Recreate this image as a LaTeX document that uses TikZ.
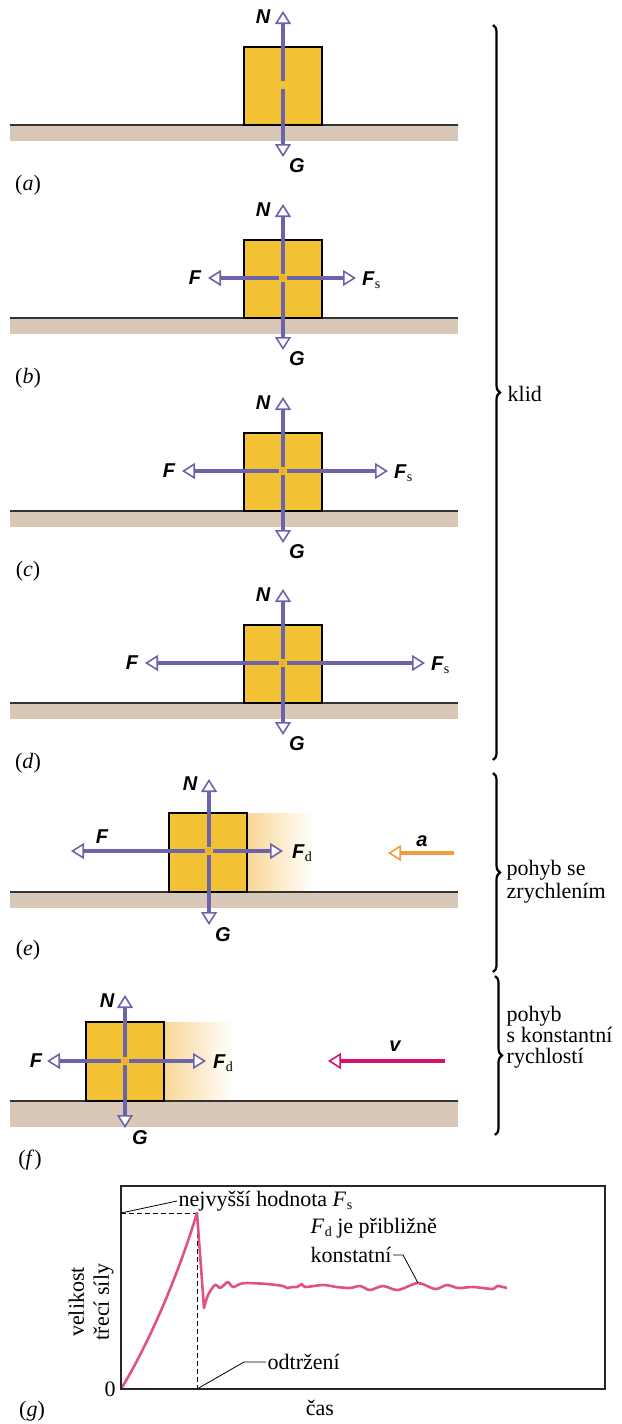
\documentclass[tikz,border=0pt]{standalone}
\usepackage{fontspec}
\setmainfont{Liberation Serif}
\newfontfamily\lblfont{Liberation Sans}
\usepackage{tikz}
\usetikzlibrary{arrows.meta,decorations.pathreplacing,positioning}
\definecolor{blockcol}{RGB}{242,194,52}
\definecolor{groundcol}{RGB}{217,199,184}
\definecolor{forcecol}{RGB}{108,100,170}
\definecolor{acccol}{RGB}{240,158,60}
\definecolor{velcol}{RGB}{210,20,110}
\definecolor{curvecol}{RGB}{224,82,132}
\definecolor{fadecol}{RGB}{249,214,150}
\definecolor{gapcol}{RGB}{240,176,40}
\newcommand{\lowidx}[1]{\kern0.5pt\raisebox{-0.3ex}{\fontsize{14}{14}\selectfont\rmfamily\mdseries\upshape #1}}

\begin{document}
\begin{tikzpicture}[x=1pt, y=-1pt,
  force/.style={draw=forcecol, line width=3.4pt, shorten <=4pt,
                -{Triangle[length=13pt, width=16pt, line width'=1.6pt, fill=white]}},
  accarrow/.style={draw=acccol, line width=3.4pt,
                -{Triangle[length=13pt, width=16pt, line width'=1.6pt, fill=white]}},
  velarrow/.style={draw=velcol, line width=3.4pt,
                -{Triangle[length=13pt, width=16pt, line width'=1.6pt, fill=white]}},
  lbl/.style={font=\fontsize{20}{21}\selectfont\lblfont\bfseries\itshape, inner sep=0pt},
  txt/.style={font=\fontsize{22}{23}\selectfont, inner sep=1.5pt},
  brace/.style={decorate, decoration={brace, amplitude=7pt}, line width=2.2pt},
  leader/.style={draw=black, line width=0.8pt},
  guide/.style={draw=black, line width=0.9pt, dash pattern=on 5pt off 3pt}]
  \useasboundingbox (0,0) rectangle (621,1424);

  \foreach \gy/\p in {125/a, 318/b, 511/c, 703/d} {
    \fill[groundcol] (10,\gy) rectangle (458,\gy+16);
    \draw[line width=1.2pt, black!80] (10,\gy) -- (458,\gy);
    \draw[fill=blockcol, line width=1.2pt] (244,\gy-78) rectangle (322,\gy);
    \coordinate (ctr\p) at (283,\gy-40);
    \coordinate (ntip\p) at (283,\gy-114);
    \coordinate (gtip\p) at (283,\gy+32);
    \draw[force] (ctr\p) -- (ntip\p);
    \draw[force] (ctr\p) -- (gtip\p);
    \node[lbl] (N\p) at (263,\gy-108) {N};
    \node[lbl] (G\p) at (297,\gy+41) {G};
    \node[txt] (part\p) at (28,\gy+60) {(\textit{\p})};
  }
  \foreach \gy/\dl/\dr/\p in {318/75/73/b, 511/101/105/c, 703/138/142/d} {
    \fill[gapcol] (280,\gy-43) rectangle (286,\gy-37);
    \coordinate (ftip\p) at (283-\dl,\gy-40);
    \coordinate (fstip\p) at (283+\dr,\gy-40);
    \draw[force] (ctr\p) -- (ftip\p);
    \draw[force] (ctr\p) -- (fstip\p);
    \node[lbl] (F\p) at (270-\dl,\gy-40) {F};
    \node[lbl, anchor=west] (Fs\p) at (289+\dr,\gy-38) {F\lowidx{s}};
  }

  % (e)
  \fill[groundcol] (10,892) rectangle (458,908);
  \shade[left color=fadecol, right color=white] (247,813) rectangle (313,892);
  \draw[line width=1.2pt, black!80] (10,892) -- (458,892);
  \draw[fill=blockcol, line width=1.2pt] (169,813) rectangle (247,892);
  \fill[gapcol] (206,848) rectangle (212,854);
  \coordinate (ctre) at (209,851);
  \coordinate (ntipe) at (209,779);
  \coordinate (gtipe) at (209,925);
  \coordinate (ftipe) at (71,851);
  \coordinate (fdtipe) at (283,851);
  \foreach \t in {ntipe, gtipe, ftipe, fdtipe} \draw[force] (ctre) -- (\t);
  \node[lbl] (Ne) at (190,784) {N};
  \node[lbl] (Ge) at (223,935) {G};
  \node[lbl] (Fe) at (102,837) {F};
  \node[lbl, anchor=west] (Fde) at (292,853) {F\lowidx{d}};
  \coordinate (astart) at (454,853);
  \coordinate (aend) at (388,853);
  \draw[accarrow] (astart) -- (aend);
  \node[lbl] (acc) at (422,841) {a};
  \node[txt] (parte) at (28,950) {(\textit{e})};

  % (f)
  \fill[groundcol] (10,1101) rectangle (458,1127);
  \shade[left color=fadecol, right color=white] (164,1022) rectangle (233,1101);
  \draw[line width=1.2pt, black!80] (10,1101) -- (458,1101);
  \draw[fill=blockcol, line width=1.2pt] (86,1022) rectangle (164,1101);
  \fill[gapcol] (122,1058) rectangle (128,1064);
  \coordinate (ctrf) at (125,1061);
  \coordinate (ntipf) at (125,995);
  \coordinate (gtipf) at (125,1128);
  \coordinate (ftipf) at (47,1061);
  \coordinate (fdtipf) at (206,1061);
  \foreach \t in {ntipf, gtipf, ftipf, fdtipf} \draw[force] (ctrf) -- (\t);
  \node[lbl] (Nf) at (107,1001) {N};
  \node[lbl] (Gf) at (140,1138) {G};
  \node[lbl] (Ff) at (36,1061) {F};
  \node[lbl, anchor=west] (Fdf) at (213,1063) {F\lowidx{d}};
  \coordinate (vstart) at (445,1061);
  \coordinate (vend) at (328,1061);
  \draw[velarrow] (vstart) -- (vend);
  \node[lbl] (vel) at (395,1046) {v};
  \node[txt] (partf) at (30,1160) {(\textit{f})};

  % braces
  \draw[brace] (493,25) -- (493,760);
  \draw[brace] (493,773) -- (493,972);
  \draw[brace] (495,976) -- (495,1135);
  \node[txt, anchor=west] (klid) at (506,394) {klid};
  \node[txt, anchor=west, align=left] (zrych) at (505,882) {pohyb se\\zrychlením};
  \node[txt, anchor=west, align=left, font=\fontsize{22}{21}\selectfont] (konstv) at (505,1037) {pohyb\\s konstantní\\rychlostí};

  % (g)
  \coordinate (o) at (121,1389);
  \coordinate (tr) at (605,1186);
  \coordinate (peak) at (197,1213);
  \coordinate (ymax) at (121,1213);
  \coordinate (tbreak) at (197,1389);
  \coordinate (wig) at (418,1283);
  \draw[guide] (ymax) -- (peak) -- (tbreak);
  \draw[curvecol, line width=2.6pt, line join=round]
    (o) .. controls (145,1350) and (175,1285) .. (peak) -- (204,1308)
    -- plot[smooth] coordinates {(204,1308) (208,1295) (215,1285) (220,1288) (224,1285)
      (228,1282) (233,1287) (240,1284) (247,1283) (267,1284) (283,1286) (287,1288)
      (292,1287) (297,1287) (302,1284) (305,1287) (323,1285) (337,1287) (350,1288)
      (360,1286) (370,1290) (383,1286) (398,1290) (418,1283) (435,1289) (447,1285)
      (458,1288) (473,1287) (493,1289) (497,1286) (507,1288)};
  \draw[line width=1.2pt, black!85] (o) rectangle (tr);
  \node[txt, anchor=west] (fsmax) at (177,1201) {nejvyšší hodnota \textit{F}\lowidx{s}};
  \draw[leader] (fsmax.west) -- (ymax);
  \node[txt, anchor=west] (fdtxt) at (309,1228) {\textit{F}\lowidx{d} je přibližně};
  \node[txt, anchor=west] (konst) at (309,1255) {konstatní};
  \draw[leader] (konst.east) -- ++(10,0) -- (wig);
  \node[txt, anchor=west] (odtr) at (266,1362) {odtržení};
  \draw[leader] (odtr.west) -- ++(-22,0) -- (tbreak);
  \node[txt] (zero) at (110,1389) {0};
  \node[txt] (cas) at (320,1408) {čas};
  \node[txt] (partg) at (32,1411) {(\textit{g})};
  \node[txt, rotate=90, align=center, font=\fontsize{22}{25}\selectfont] (ylab) at (91,1302) {velikost\\třecí síly};
\end{tikzpicture}
\end{document}
